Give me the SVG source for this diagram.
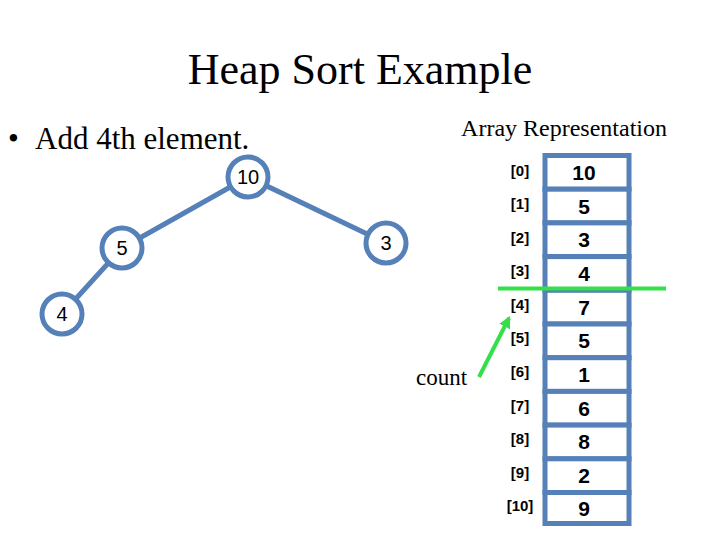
<svg xmlns="http://www.w3.org/2000/svg" width="720" height="540" viewBox="0 0 720 540">
<defs>
<style>
.title{font-family:"Liberation Serif",serif;font-size:44px;fill:#000}
.serif{font-family:"Liberation Serif",serif;fill:#000}
.node circle{fill:#fff;stroke:#5580b8;stroke-width:5}
.node text{font-family:"Liberation Sans",Arial,sans-serif;font-size:20px;fill:#000;text-anchor:middle}
.edge{stroke:#5580b8;stroke-width:5;fill:none}
.cell{fill:#fff;stroke:#5580b8;stroke-width:5}
.val{font-family:"Liberation Sans",Arial,sans-serif;font-size:21px;font-weight:bold;fill:#000;text-anchor:middle}
.idx{font-family:"Liberation Sans",Arial,sans-serif;font-size:15px;font-weight:bold;fill:#000;text-anchor:middle}
.green{stroke:#33e04a;stroke-width:4;fill:none}
</style>
<marker id="ah" viewBox="0 0 10 10" refX="8" refY="5" markerWidth="3" markerHeight="3" orient="auto">
<path d="M0,0 L10,5 L0,10 z" fill="#33e04a"/>
</marker>
</defs>
<rect width="720" height="540" fill="#fff"/>
<text class="title" x="360" y="84" text-anchor="middle">Heap Sort Example</text>
<text class="serif" x="8" y="149" font-size="31">•</text>
<text class="serif" x="35" y="149" font-size="31">Add 4th element.</text>
<text class="serif" x="667" y="136" font-size="24" text-anchor="end">Array Representation</text>
<g id="connectors">
<line class="edge" x1="248" y1="177" x2="122" y2="248"/>
<line class="edge" x1="248" y1="177" x2="386" y2="243"/>
<line class="edge" x1="122" y1="248" x2="62" y2="314"/>
</g>
<g id="node-10" class="node"><circle cx="248" cy="177" r="20"/><text x="248" y="184">10</text></g>
<g id="node-5" class="node"><circle cx="122" cy="248" r="20"/><text x="122" y="255">5</text></g>
<g id="node-3" class="node"><circle cx="386" cy="243" r="20"/><text x="386" y="250">3</text></g>
<g id="node-4" class="node"><circle cx="62" cy="314" r="20"/><text x="62" y="321">4</text></g>
<g id="array">
<rect class="cell" x="545" y="155.5" width="84" height="33.7"/>
<rect class="cell" x="545" y="189.2" width="84" height="33.7"/>
<rect class="cell" x="545" y="222.9" width="84" height="33.7"/>
<rect class="cell" x="545" y="256.6" width="84" height="33.7"/>
<rect class="cell" x="545" y="290.3" width="84" height="33.7"/>
<rect class="cell" x="545" y="324.0" width="84" height="33.7"/>
<rect class="cell" x="545" y="357.7" width="84" height="33.7"/>
<rect class="cell" x="545" y="391.4" width="84" height="33.7"/>
<rect class="cell" x="545" y="425.1" width="84" height="33.7"/>
<rect class="cell" x="545" y="458.8" width="84" height="33.7"/>
<rect class="cell" x="545" y="492.5" width="84" height="31"/>
<text class="val" x="584" y="180">10</text>
<text class="val" x="584" y="214">5</text>
<text class="val" x="584" y="247">3</text>
<text class="val" x="584" y="281">4</text>
<text class="val" x="584" y="315">7</text>
<text class="val" x="584" y="348">5</text>
<text class="val" x="584" y="382">1</text>
<text class="val" x="584" y="416">6</text>
<text class="val" x="584" y="449">8</text>
<text class="val" x="584" y="483">2</text>
<text class="val" x="584" y="516">9</text>
<text class="idx" x="520" y="176">[0]</text>
<text class="idx" x="520" y="209">[1]</text>
<text class="idx" x="520" y="243">[2]</text>
<text class="idx" x="520" y="276">[3]</text>
<text class="idx" x="520" y="310">[4]</text>
<text class="idx" x="520" y="343">[5]</text>
<text class="idx" x="520" y="377">[6]</text>
<text class="idx" x="520" y="411">[7]</text>
<text class="idx" x="520" y="444">[8]</text>
<text class="idx" x="520" y="478">[9]</text>
<text class="idx" x="520" y="511">[10]</text>
</g>
<line class="green" x1="498" y1="288.5" x2="666" y2="288.5"/>
<line class="green" x1="479" y1="377" x2="509" y2="318" marker-end="url(#ah)"/>
<text class="serif" x="416" y="385" font-size="23">count</text>
</svg>
